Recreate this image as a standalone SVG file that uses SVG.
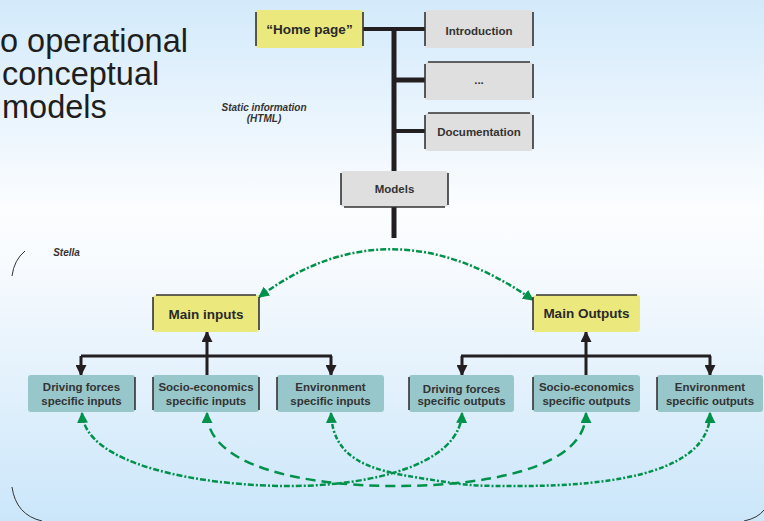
<svg xmlns="http://www.w3.org/2000/svg" width="764" height="521" viewBox="0 0 764 521">
<defs>
<linearGradient id="bg" x1="0" y1="0" x2="0" y2="1">
<stop offset="0" stop-color="#d3eafb"/>
<stop offset="0.4" stop-color="#fbfdff"/>
<stop offset="0.5" stop-color="#f8fbfe"/>
<stop offset="1" stop-color="#cbe6fa"/>
</linearGradient>
<marker id="ga" viewBox="0 0 10 10" refX="9" refY="5" markerWidth="11" markerHeight="11" markerUnits="userSpaceOnUse" orient="auto-start-reverse">
<path d="M0,0 L10,5 L0,10 z" fill="#00914a"/>
</marker>
<marker id="ba" viewBox="0 0 10 10" refX="9" refY="5" markerWidth="11" markerHeight="11" markerUnits="userSpaceOnUse" orient="auto-start-reverse">
<path d="M0,0 L10,5 L0,10 z" fill="#231f20"/>
</marker>
<style>
.big{font-family:"Liberation Sans",Arial,sans-serif;font-size:32.5px;fill:#1e1e1e}
.lbl{font-family:"Liberation Sans",Arial,sans-serif;font-weight:bold;font-size:11.5px;fill:#333;text-anchor:middle}
.ttl{font-family:"Liberation Sans",Arial,sans-serif;font-weight:bold;font-size:13.5px;fill:#2a2a2a;text-anchor:middle}
.note{font-family:"Liberation Sans",Arial,sans-serif;font-weight:bold;font-style:italic;font-size:10px;fill:#333;text-anchor:middle}
.edge{fill:none;stroke:#333;stroke-width:1.6}
.yel{fill:#ebe97e}
.gry{fill:#dfdfdf}
.teal{fill:#97c7cb}
.blk{fill:none;stroke:#231f20;stroke-width:3}
.grn{fill:none;stroke:#00914a;stroke-width:2.5}
</style>
</defs>
<rect width="764" height="521" fill="url(#bg)"/>

<text class="big" x="0" y="52">o operational</text>
<text class="big" x="2" y="85">conceptual</text>
<text class="big" x="2" y="118">models</text>

<text class="note" x="264" y="110.5">Static information</text>
<text class="note" x="264" y="122">(HTML)</text>
<text class="note" x="66.5" y="256">Stella</text>

<g id="frame" fill="none" stroke="#333" stroke-width="1">
<path d="M25,251 Q14,260 12,276"/>
<path d="M12,487 Q16,515 42,521"/>
<path d="M744,521 Q758,518 764,510"/>
</g>

<g id="connectors">
<path d="M362,29 H394 M394,29 H425 M394,131 H425" fill="none" stroke="#231f20" stroke-width="4"/>
<path d="M394,27 V238" fill="none" stroke="#231f20" stroke-width="5"/>
<path d="M394,80 H425" fill="none" stroke="#231f20" stroke-width="5"/>
<path class="blk" d="M81,356 H332"/>
<path class="blk" d="M81,356 V375" marker-end="url(#ba)"/>
<path class="blk" d="M331,356 V375" marker-end="url(#ba)"/>
<path class="blk" d="M207,375 V332" marker-end="url(#ba)"/>
<path class="blk" d="M461,356 H711"/>
<path class="blk" d="M462,356 V375" marker-end="url(#ba)"/>
<path class="blk" d="M710,356 V375" marker-end="url(#ba)"/>
<path class="blk" d="M586,375 V332" marker-end="url(#ba)"/>

<path class="grn" stroke-dasharray="6 2 2 2" d="M259,297 Q390,200 533,300" marker-start="url(#ga)" marker-end="url(#ga)"/>
<path class="grn" stroke-width="3" stroke-dasharray="10 6" d="M207,413 C207,465 300,486 396,486 C480,486 586,470 586,413" marker-start="url(#ga)" marker-end="url(#ga)"/>
<path class="grn" stroke-dasharray="6 2 2 2" d="M82,413 C85,465 200,486 290,486 C370,486 460,465 462,413" marker-start="url(#ga)" marker-end="url(#ga)"/>
<path class="grn" stroke-dasharray="5 2 2 2" d="M331,413 C333,460 370,470 420,478 S470,486 520,486 C620,486 710,470 710,413" marker-start="url(#ga)" marker-end="url(#ga)"/>
</g>

<g id="home">
<rect class="yel" x="256" y="10" width="107" height="38" rx="3"/>
<path class="edge" d="M256,12 V46 M363,12 V46"/>
<text class="ttl" x="309.5" y="34">“Home page”</text>
</g>
<g id="intro">
<rect class="gry" x="425" y="10" width="108" height="38" rx="3"/>
<path class="edge" d="M425,12 V46 M533,12 V46"/>
<text class="lbl" x="479" y="35">Introduction</text>
</g>
<g id="dots">
<rect class="gry" x="425" y="62" width="108" height="38" rx="3"/>
<path class="edge" d="M425,64 V98 M533,64 V98 M428,62 H530"/>
<text class="lbl" x="479" y="84">...</text>
</g>
<g id="doc">
<rect class="gry" x="425" y="113" width="108" height="38" rx="3"/>
<path class="edge" d="M425,115 V149 M533,115 V149 M428,113 H530"/>
<text class="lbl" x="479" y="136">Documentation</text>
</g>
<g id="models">
<rect class="gry" x="341" y="171" width="107" height="36" rx="3"/>
<path class="edge" d="M341,173 V205 M448,173 V205 M344,207 H445"/>
<text class="lbl" x="394.5" y="193">Models</text>
</g>

<g id="main-inputs">
<rect class="yel" x="153" y="295" width="106" height="37" rx="3"/>
<path class="edge" d="M153,297 V330 M259,297 V330 M156,295 H256"/>
<text class="ttl" x="206" y="319">Main inputs</text>
</g>
<g id="main-outputs">
<rect class="yel" x="533" y="295" width="107" height="37" rx="3"/>
<path class="edge" d="M533,297 V330 M536,295 H637"/>
<text class="ttl" x="586.5" y="318">Main Outputs</text>
</g>

<g id="df-in">
<rect class="teal" x="28" y="375" width="107" height="37" rx="3"/>
<path class="edge" d="M135,377 V410"/>
<text class="lbl" x="81.5" y="391">Driving forces</text>
<text class="lbl" x="81.5" y="405">specific inputs</text>
</g>
<g id="se-in">
<rect class="teal" x="153" y="375" width="106" height="37" rx="3"/>
<path class="edge" d="M153,377 V410 M259,377 V410"/>
<text class="lbl" x="206" y="391">Socio-economics</text>
<text class="lbl" x="206" y="405">specific inputs</text>
</g>
<g id="env-in">
<rect class="teal" x="277" y="375" width="107" height="37" rx="3"/>
<path class="edge" d="M277,377 V410"/>
<text class="lbl" x="330.5" y="391">Environment</text>
<text class="lbl" x="330.5" y="405">specific inputs</text>
</g>
<g id="df-out">
<rect class="teal" x="409" y="375" width="105" height="37" rx="3"/>
<path class="edge" d="M409,377 V410"/>
<text class="lbl" x="461.5" y="393">Driving forces</text>
<text class="lbl" x="461.5" y="405">specific outputs</text>
</g>
<g id="se-out">
<rect class="teal" x="533" y="375" width="107" height="37" rx="3"/>
<path class="edge" d="M533,377 V410"/>
<text class="lbl" x="586.5" y="391">Socio-economics</text>
<text class="lbl" x="586.5" y="405">specific outputs</text>
</g>
<g id="env-out">
<rect class="teal" x="657" y="375" width="106" height="37" rx="3"/>
<path class="edge" d="M657,377 V410"/>
<text class="lbl" x="710" y="391">Environment</text>
<text class="lbl" x="710" y="405">specific outputs</text>
</g>
</svg>
